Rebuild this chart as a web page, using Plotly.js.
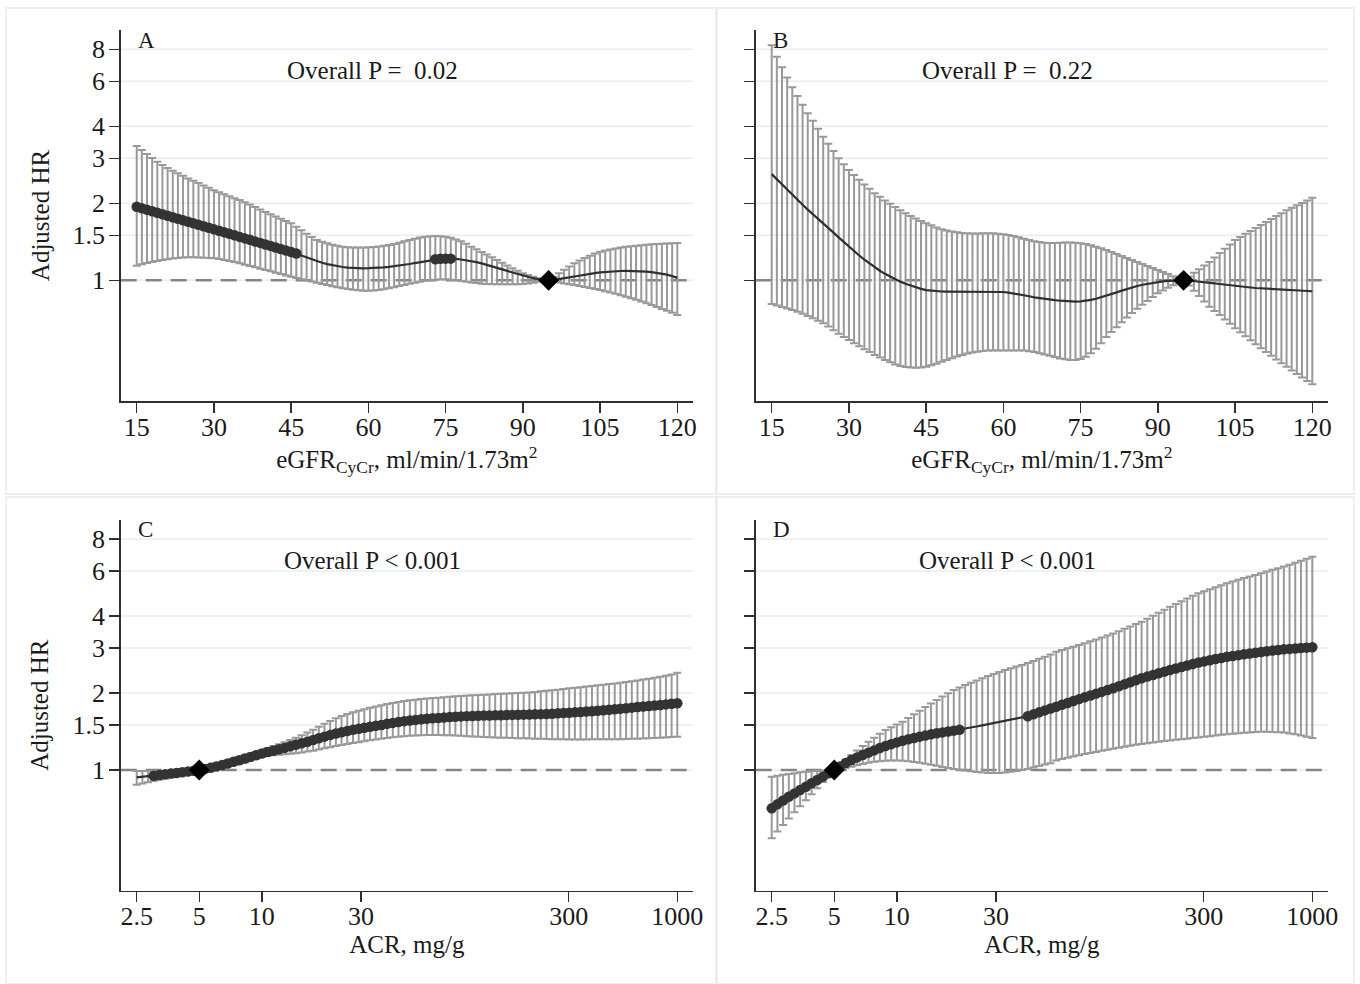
<!DOCTYPE html>
<html>
<head>
<meta charset="utf-8">
<script src="https://cdn.plot.ly/plotly-3.0.1.min.js"></script>
<style>
html,body{margin:0;padding:0;background:#ffffff;}
#chart{width:1360px;height:984px;}
</style>
</head>
<body>
<div id="chart"></div>
<script>
// ---------- DATA ----------
// eGFR grid (panels A, B)
const egfr = [15,16,17,18,19,20,21,22,23,24,25,26,27,28,29,30,31,32,33,34,35,36,37,38,39,40,41,42,43,44,45,46,47,48,49,50,51,52,53,54,55,56,57,58,59,60,61,62,63,64,65,66,67,68,69,70,71,72,73,74,75,76,77,78,79,80,81,82,83,84,85,86,87,88,89,90,91,92,93,94,95,96,97,98,99,100,101,102,103,104,105,106,107,108,109,110,111,112,113,114,115,116,117,118,119,120];

// Panel A
const hrA = [1.940,1.914,1.888,1.863,1.838,1.813,1.788,1.764,1.740,1.717,
1.694,1.671,1.648,1.626,1.604,1.582,1.561,1.540,1.519,1.499,
1.478,1.458,1.439,1.419,1.400,1.381,1.363,1.344,1.326,1.308,
1.291,1.273,1.250,1.228,1.207,1.188,1.171,1.157,1.145,1.135,
1.127,1.121,1.117,1.115,1.114,1.115,1.116,1.119,1.123,1.128,
1.134,1.141,1.149,1.158,1.168,1.178,1.190,1.200,1.208,1.213,
1.215,1.215,1.212,1.206,1.198,1.188,1.177,1.164,1.150,1.135,
1.120,1.104,1.088,1.072,1.057,1.043,1.030,1.019,1.010,1.004,
1.000,1.003,1.009,1.017,1.026,1.035,1.044,1.052,1.060,1.067,
1.073,1.078,1.082,1.085,1.087,1.088,1.088,1.087,1.085,1.082,
1.077,1.071,1.063,1.052,1.038,1.022];
const hiA = [3.35,3.23,3.12,3.01,2.91,2.82,2.75,2.68,2.62,2.56,
2.50,2.45,2.40,2.35,2.30,2.25,2.21,2.17,2.13,2.095,
2.06,2.02,1.978,1.935,1.892,1.85,1.813,1.777,1.741,1.705,
1.67,1.62,1.57,1.52,1.475,1.437,1.415,1.395,1.378,1.364,
1.353,1.347,1.344,1.343,1.344,1.346,1.35,1.356,1.364,1.375,
1.387,1.403,1.42,1.437,1.455,1.47,1.48,1.487,1.49,1.488,
1.48,1.465,1.445,1.42,1.388,1.353,1.322,1.29,1.26,1.23,
1.20,1.17,1.143,1.115,1.09,1.065,1.048,1.032,1.018,1.007,
1.0,1.03,1.065,1.10,1.133,1.166,1.195,1.222,1.248,1.272,
1.294,1.308,1.32,1.331,1.342,1.353,1.36,1.366,1.372,1.378,
1.383,1.387,1.391,1.394,1.397,1.40];
const loA = [1.14,1.155,1.168,1.18,1.19,1.20,1.208,1.216,1.223,1.228,
1.23,1.23,1.229,1.226,1.223,1.219,1.21,1.20,1.19,1.178,
1.165,1.151,1.138,1.124,1.11,1.097,1.084,1.071,1.058,1.045,
1.033,1.021,1.01,0.999,0.989,0.979,0.968,0.958,0.948,0.939,
0.93,0.924,0.918,0.914,0.911,0.911,0.912,0.916,0.922,0.93,
0.939,0.949,0.959,0.969,0.979,0.988,0.995,1.001,1.005,1.008,
1.009,1.006,1.0,0.993,0.986,0.98,0.975,0.97,0.967,0.965,
0.964,0.964,0.964,0.965,0.966,0.968,0.972,0.978,0.986,0.993,
1.0,0.99,0.98,0.972,0.965,0.958,0.95,0.942,0.934,0.925,
0.916,0.906,0.896,0.885,0.874,0.863,0.851,0.839,0.826,0.813,
0.80,0.787,0.773,0.76,0.746,0.732];

// Panel B
const hrB = [2.60,2.48,2.37,2.26,2.16,2.06,1.975,1.89,1.81,1.738,
1.67,1.60,1.535,1.472,1.41,1.353,1.30,1.25,1.205,1.163,
1.124,1.09,1.06,1.033,1.009,0.988,0.97,0.953,0.939,0.926,
0.916,0.91,0.906,0.904,0.903,0.903,0.903,0.903,0.904,0.905,
0.906,0.906,0.906,0.905,0.903,0.90,0.895,0.889,0.882,0.874,
0.866,0.858,0.851,0.845,0.84,0.836,0.832,0.829,0.827,0.826,
0.827,0.831,0.838,0.847,0.858,0.87,0.883,0.897,0.911,0.925,
0.938,0.95,0.961,0.97,0.978,0.985,0.991,0.995,0.998,1.0,
1.0,0.998,0.994,0.99,0.985,0.979,0.973,0.967,0.961,0.955,
0.95,0.945,0.941,0.937,0.933,0.93,0.927,0.924,0.921,0.918,
0.916,0.914,0.912,0.91,0.908,0.906];
const hiB = [8.3,7.48,6.8,6.2,5.68,5.25,4.86,4.5,4.2,3.91,
3.64,3.42,3.2,3.0,2.84,2.70,2.58,2.47,2.37,2.28,
2.19,2.12,2.05,1.99,1.935,1.88,1.83,1.785,1.745,1.705,
1.67,1.64,1.61,1.585,1.565,1.55,1.54,1.532,1.527,1.525,
1.525,1.526,1.527,1.526,1.522,1.515,1.505,1.49,1.472,1.455,
1.437,1.422,1.41,1.403,1.40,1.40,1.402,1.404,1.404,1.402,
1.396,1.385,1.37,1.352,1.333,1.313,1.29,1.267,1.244,1.222,
1.20,1.179,1.158,1.137,1.117,1.097,1.077,1.058,1.038,1.019,
1.0,1.035,1.07,1.105,1.142,1.18,1.228,1.278,1.328,1.38,
1.437,1.478,1.52,1.56,1.602,1.645,1.69,1.735,1.782,1.83,
1.88,1.92,1.963,2.007,2.053,2.10];
const loB = [0.808,0.797,0.786,0.775,0.765,0.754,0.74,0.725,0.71,0.695,
0.679,0.659,0.638,0.618,0.60,0.584,0.568,0.552,0.538,0.524,
0.511,0.499,0.488,0.478,0.469,0.462,0.458,0.456,0.455,0.456,
0.459,0.465,0.472,0.48,0.488,0.496,0.504,0.511,0.517,0.522,
0.526,0.529,0.531,0.532,0.531,0.531,0.531,0.532,0.532,0.531,
0.528,0.524,0.519,0.513,0.507,0.501,0.495,0.491,0.488,0.488,
0.492,0.502,0.518,0.54,0.568,0.60,0.628,0.656,0.686,0.716,
0.745,0.774,0.802,0.83,0.86,0.89,0.912,0.935,0.956,0.978,
1.0,0.955,0.91,0.868,0.827,0.788,0.759,0.731,0.703,0.676,
0.649,0.626,0.604,0.583,0.562,0.542,0.524,0.507,0.49,0.474,
0.459,0.444,0.43,0.417,0.404,0.392];

// ACR grid (panels C, D)
const acr = [2.5,2.663,2.836,3.021,3.218,3.427,3.651,3.888,4.141,4.411,
4.698,5.0,5.33,5.677,6.046,6.44,6.859,7.306,7.781,8.288,
8.827,9.401,10.01,10.66,11.36,12.1,12.88,13.72,14.62,15.57,
16.58,17.66,18.81,20.04,21.34,22.73,24.21,25.79,27.47,29.26,
31.16,33.19,35.35,37.65,40.1,42.71,45.49,48.45,51.61,54.97,
58.55,62.36,66.42,70.74,75.34,80.25,85.47,91.04,96.95,103.3,
110,117.2,124.8,132.9,141.6,150.8,160.6,171.1,182.2,194.1,
206.7,220.2,234.5,249.8,266,283.3,301.8,321.4,342.3,364.6,
388.4,413.6,440.6,469.3,499.8,532.3,567,603.9,643.2,685.1,
729.7,777.2,827.8,881.7,939,1000];

// Panel C
const hrC = [0.935,0.94,0.945,0.95,0.956,0.962,0.968,0.974,0.98,0.986,
0.993,1.0,1.01,1.02,1.032,1.045,1.06,1.076,1.092,1.108,
1.125,1.143,1.16,1.175,1.19,1.205,1.22,1.237,1.255,1.272,
1.29,1.31,1.33,1.35,1.37,1.388,1.405,1.42,1.435,1.45,
1.463,1.476,1.488,1.5,1.515,1.528,1.54,1.552,1.562,1.57,
1.578,1.585,1.592,1.598,1.604,1.61,1.615,1.62,1.624,1.627,
1.63,1.632,1.634,1.636,1.638,1.64,1.642,1.644,1.646,1.648,
1.65,1.653,1.656,1.66,1.665,1.67,1.675,1.68,1.686,1.692,
1.698,1.705,1.712,1.72,1.727,1.735,1.744,1.753,1.762,1.77,
1.778,1.787,1.796,1.805,1.814,1.823];
const hiC = [0.99,0.99,0.99,0.99,0.99,0.992,0.994,0.995,0.996,0.997,
0.999,1.0,1.018,1.035,1.052,1.07,1.088,1.106,1.124,1.142,
1.16,1.178,1.197,1.218,1.24,1.262,1.285,1.31,1.337,1.368,
1.40,1.435,1.475,1.515,1.555,1.592,1.625,1.655,1.68,1.705,
1.728,1.75,1.77,1.79,1.81,1.828,1.845,1.86,1.872,1.883,
1.893,1.902,1.91,1.918,1.926,1.934,1.941,1.948,1.955,1.96,
1.965,1.97,1.975,1.98,1.985,1.99,1.995,2.0,2.005,2.01,
2.02,2.03,2.04,2.05,2.06,2.075,2.086,2.097,2.108,2.12,
2.132,2.144,2.156,2.168,2.18,2.195,2.21,2.225,2.24,2.258,
2.276,2.295,2.315,2.335,2.36,2.40];
const loC = [0.875,0.885,0.895,0.905,0.915,0.925,0.935,0.945,0.955,0.966,
0.98,1.0,1.005,1.012,1.02,1.028,1.037,1.046,1.058,1.07,
1.088,1.107,1.125,1.135,1.142,1.148,1.153,1.158,1.162,1.17,
1.18,1.19,1.203,1.216,1.228,1.24,1.252,1.263,1.274,1.285,
1.296,1.306,1.316,1.326,1.335,1.343,1.35,1.356,1.361,1.365,
1.368,1.37,1.37,1.37,1.368,1.366,1.363,1.36,1.356,1.352,
1.35,1.347,1.344,1.341,1.338,1.336,1.334,1.332,1.33,1.328,
1.326,1.324,1.322,1.32,1.319,1.318,1.317,1.317,1.317,1.317,
1.318,1.318,1.318,1.318,1.319,1.32,1.322,1.324,1.326,1.328,
1.331,1.334,1.337,1.341,1.345,1.35];

// Panel D
const hrD = [0.708,0.734,0.76,0.786,0.81,0.835,0.86,0.887,0.914,0.942,
0.971,1.0,1.033,1.064,1.094,1.12,1.145,1.169,1.193,1.218,
1.241,1.262,1.282,1.302,1.318,1.334,1.35,1.364,1.378,1.391,
1.403,1.414,1.425,1.437,1.451,1.465,1.479,1.494,1.509,1.524,
1.54,1.556,1.572,1.589,1.606,1.623,1.65,1.68,1.71,1.74,
1.768,1.798,1.829,1.86,1.892,1.924,1.956,1.988,2.02,2.053,
2.086,2.124,2.163,2.203,2.243,2.283,2.318,2.353,2.389,2.424,
2.46,2.494,2.528,2.562,2.596,2.63,2.658,2.686,2.714,2.742,
2.77,2.791,2.812,2.833,2.854,2.875,2.893,2.911,2.929,2.946,
2.964,2.975,2.986,2.997,3.008,3.018];
const hiD = [0.942,0.95,0.958,0.965,0.972,0.979,0.985,0.989,0.992,0.995,
0.998,1.0,1.048,1.097,1.145,1.193,1.242,1.29,1.338,1.386,
1.433,1.47,1.507,1.545,1.597,1.65,1.705,1.762,1.82,1.878,
1.936,1.995,2.054,2.10,2.147,2.194,2.24,2.285,2.33,2.373,
2.416,2.46,2.498,2.536,2.573,2.62,2.67,2.72,2.77,2.83,
2.90,2.945,2.99,3.035,3.082,3.13,3.185,3.24,3.298,3.358,
3.42,3.49,3.565,3.64,3.72,3.80,3.90,4.005,4.12,4.235,
4.35,4.46,4.57,4.68,4.795,4.91,5.0,5.09,5.185,5.28,
5.37,5.455,5.54,5.625,5.705,5.79,5.88,5.97,6.06,6.15,
6.24,6.35,6.46,6.58,6.70,6.82];
const loD = [0.541,0.575,0.609,0.646,0.683,0.721,0.761,0.804,0.849,0.898,
0.947,1.0,1.01,1.02,1.03,1.043,1.056,1.068,1.076,1.082,
1.087,1.089,1.089,1.086,1.081,1.075,1.067,1.058,1.048,1.038,
1.028,1.018,1.009,1.002,0.995,0.988,0.982,0.977,0.974,0.973,
0.974,0.978,0.984,0.992,1.0,1.01,1.022,1.036,1.05,1.063,
1.09,1.103,1.116,1.129,1.142,1.155,1.166,1.177,1.188,1.199,
1.21,1.221,1.232,1.243,1.254,1.265,1.273,1.281,1.289,1.297,
1.305,1.312,1.319,1.326,1.333,1.34,1.348,1.356,1.364,1.372,
1.38,1.386,1.392,1.398,1.403,1.408,1.41,1.41,1.409,1.406,
1.40,1.39,1.378,1.365,1.35,1.335];

// x ranges where the estimate is drawn with dots
const dotsA = [[15,46],[73,76]];
const dotsB = [];
const dotsC = [[3.0,1000]];
const dotsD = [[2.5,20.1],[42,1000]];

// reference values (diamond)
const refEgfr = 95;
const refAcr = 5;
const refHR = 1;

// ticks and texts
const yTicks = [1,1.5,2,3,4,6,8];
const yTickText = ['1','1.5','2','3','4','6','8'];
const egfrTicks = [15,30,45,60,75,90,105,120];
const egfrTickText = ['15','30','45','60','75','90','105','120'];
const acrTicks = [2.5,5,10,30,300,1000];
const acrTickText = ['2.5','5','10','30','300','1000'];
const panelLetters = ['A','B','C','D'];
const pTexts = ['Overall P =\u00a0 0.02','Overall P =\u00a0 0.22','Overall P < 0.001','Overall P < 0.001'];
const yTitle = 'Adjusted HR';
const xTitleEgfr = 'eGFR<sub>CyCr</sub>, ml/min/1.73m<sup>2</sup>';
const xTitleAcr = 'ACR, mg/g';

// ---------- STYLE / LAYOUT ----------
const W = 1360, H = 984;
const FONT = 'Liberation Serif, Times New Roman, serif';
const TXT = '#1a1a1a';
const LINE = '#2f2f2f';
const BAR = '#999999';
const DOT = '#333333';

const colPx = [[120.7, 693], [755.7, 1328]];
const rowPx = [[30, 401], [519.7, 890.7]];
const dx = p => [p[0] / W, p[1] / W];
const dy = p => [1 - p[1] / H, 1 - p[0] / H];

const panels = [
  {x: egfr, hr: hrA, hi: hiA, lo: loA, dots: dotsA, ref: refEgfr, col: 0, row: 0, kind: 'egfr', ylab: true},
  {x: egfr, hr: hrB, hi: hiB, lo: loB, dots: dotsB, ref: refEgfr, col: 1, row: 0, kind: 'egfr', ylab: false},
  {x: acr,  hr: hrC, hi: hiC, lo: loC, dots: dotsC, ref: refAcr,  col: 0, row: 1, kind: 'acr',  ylab: true},
  {x: acr,  hr: hrD, hi: hiD, lo: loD, dots: dotsD, ref: refAcr,  col: 1, row: 1, kind: 'acr',  ylab: false}
];

const traces = [];
const layout = {
  width: W, height: H,
  margin: {l: 0, r: 0, t: 0, b: 0},
  paper_bgcolor: '#ffffff',
  plot_bgcolor: 'rgba(0,0,0,0)',
  showlegend: false,
  hovermode: false,
  font: {family: FONT, color: TXT, size: 25},
  shapes: [],
  annotations: []
};

const axisCommon = {
  showline: true, linecolor: LINE, linewidth: 1.5,
  ticks: 'outside', ticklen: 10, tickwidth: 1.5, tickcolor: LINE,
  showgrid: false, zeroline: false, fixedrange: true,
  tickfont: {family: FONT, size: 26, color: TXT}
};

// panel frames (light borders)
const frames = [[6, 8, 716, 494], [717, 8, 1354, 494], [6, 497, 716, 984], [717, 497, 1354, 984]];
frames.forEach(f => {
  layout.shapes.push({type: 'rect', xref: 'paper', yref: 'paper',
    x0: f[0] / W, x1: f[2] / W, y0: 1 - f[3] / H, y1: 1 - f[1] / H,
    line: {color: '#e6ecef', width: 1.5}, fillcolor: 'rgba(0,0,0,0)', layer: 'below'});
});

panels.forEach((p, i) => {
  const n = i + 1;
  const xs = n === 1 ? 'x' : 'x' + n;
  const ys = n === 1 ? 'y' : 'y' + n;
  const xk = n === 1 ? 'xaxis' : 'xaxis' + n;
  const yk = n === 1 ? 'yaxis' : 'yaxis' + n;

  // x axis
  const xa = Object.assign({}, axisCommon, {
    domain: dx(colPx[p.col]), anchor: ys,
    tickmode: 'array', ticklabelstandoff: -8
  });
  if (p.kind === 'egfr') {
    Object.assign(xa, {type: 'linear', range: [11.89, 123.05], tickvals: egfrTicks, ticktext: egfrTickText,
      title: {text: xTitleEgfr, font: {family: FONT, size: 25, color: TXT}, standoff: 0}});
  } else {
    Object.assign(xa, {type: 'log', range: [0.3209, 3.0756], tickvals: acrTicks, ticktext: acrTickText,
      title: {text: xTitleAcr, font: {family: FONT, size: 25, color: TXT}, standoff: 0}});
  }
  layout[xk] = xa;

  // y axis
  const ya = Object.assign({}, axisCommon, {
    domain: dy(rowPx[p.row]), anchor: xs, type: 'log',
    range: [-0.4719, 0.9785], tickmode: 'array', tickvals: yTicks, ticktext: yTickText,
    showticklabels: p.ylab, ticklabelstandoff: -1
  });
  if (p.ylab) ya.title = {text: yTitle, font: {family: FONT, size: 25, color: TXT}, standoff: 16};
  layout[yk] = ya;

  // light gridlines
  yTicks.forEach(t => {
    layout.shapes.push({type: 'line', xref: xs + ' domain', yref: ys, x0: 0, x1: 1, y0: t, y1: t,
      line: {color: '#e5eef2', width: 1.5}, layer: 'below'});
  });
  // dashed reference line at HR = 1
  layout.shapes.push({type: 'line', xref: xs + ' domain', yref: ys, x0: 0, x1: 1, y0: refHR, y1: refHR,
    line: {color: '#858585', width: 2.5, dash: '16px,9px'}, layer: 'below'});

  // CI error bars + estimate line
  traces.push({
    type: 'scatter', mode: 'lines', x: p.x, y: p.hr, xaxis: xs, yaxis: ys,
    line: {color: LINE, width: 2.2},
    error_y: {type: 'data', symmetric: false, visible: true,
      array: p.hi.map((v, k) => v - p.hr[k]),
      arrayminus: p.lo.map((v, k) => p.hr[k] - v),
      color: BAR, thickness: 2, width: 4},
    hoverinfo: 'skip'
  });

  // dots where drawn
  const inDots = v => p.dots.some(r => v >= r[0] && v <= r[1]);
  const dx_ = [], dy_ = [];
  p.x.forEach((v, k) => { if (inDots(v)) { dx_.push(v); dy_.push(p.hr[k]); } });
  if (dx_.length) {
    traces.push({type: 'scatter', mode: 'markers', x: dx_, y: dy_, xaxis: xs, yaxis: ys,
      marker: {color: DOT, size: 10.5, line: {width: 0}}, hoverinfo: 'skip'});
  }

  // reference diamond
  traces.push({type: 'scatter', mode: 'markers', x: [p.ref], y: [refHR], xaxis: xs, yaxis: ys,
    marker: {symbol: 'diamond', color: '#000000', size: 16, line: {width: 0}}, hoverinfo: 'skip'});

  // panel letter and P-value text
  const offX = p.col === 0 ? 0 : 635;
  const offY = p.row === 0 ? 0 : 489.7;
  layout.annotations.push({xref: 'paper', yref: 'paper', x: (136 + offX) / W, y: 1 - (40 + offY) / H,
    xanchor: 'left', yanchor: 'middle', showarrow: false, text: panelLetters[i],
    font: {family: FONT, size: 23, color: TXT}});
  layout.annotations.push({xref: 'paper', yref: 'paper', x: (372 + offX) / W, y: 1 - (71 + offY) / H,
    xanchor: 'center', yanchor: 'middle', showarrow: false, text: pTexts[i],
    font: {family: FONT, size: 25, color: TXT}});
});

Plotly.newPlot('chart', traces, layout, {displayModeBar: false, staticPlot: true});
</script>
</body>
</html>
